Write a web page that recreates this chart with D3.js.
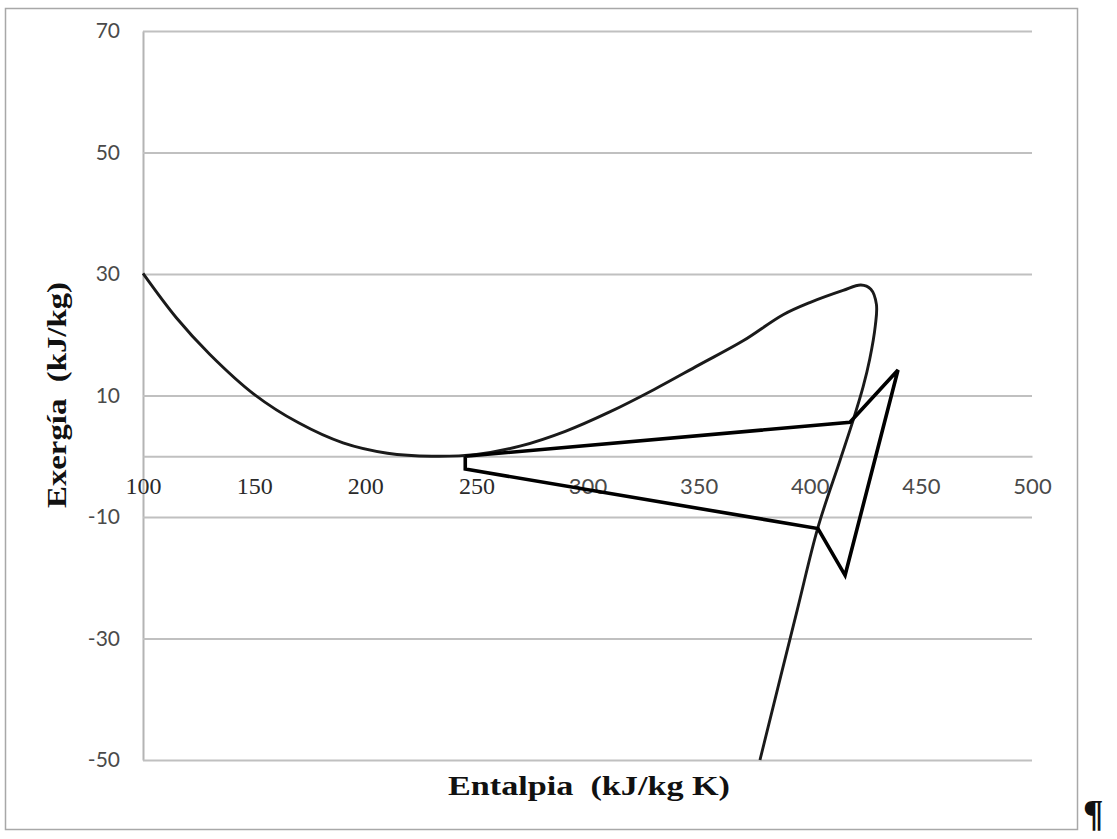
<!DOCTYPE html>
<html>
<head>
<meta charset="utf-8">
<script src="https://cdn.jsdelivr.net/npm/d3@7"></script>
<style>
  body { margin: 0; background: #fff; }
  svg { display: block; }
</style>
</head>
<body>
<svg id="svg" width="1117" height="839"></svg>
<script>
// curve (thin, smoothed)
var enthalpyA = [100, 115, 130, 150, 170, 190, 210, 230, 250, 270, 290, 310, 330, 350, 370, 388, 400, 415, 423, 427.5, 430, 429.5, 427, 424, 419.5, 413.6, 403.7, 394.3, 377.6];
var exergyA   = [30.1, 22.8, 16.8, 10.2, 5.5, 2.2, 0.5, 0, 0.3, 1.7, 4.1, 7.3, 11.0, 15.0, 19.0, 23.3, 25.3, 27.3, 28.2, 27.5, 25, 21.5, 16, 11.4, 5.9, -0.7, -11.7, -25.4, -50];
// closed cycle (thick, straight)
var enthalpyB = [245, 418.1, 439.7, 415.9, 403.7, 245, 245];
var exergyB   = [0, 5.6, 14.2, -19.6, -11.9, -2.1, 0];

var xTicks = [100, 150, 200, 250, 300, 350, 400, 450, 500];
var yTicks = [-50, -30, -10, 10, 30, 50, 70];
var serifTicks = [100, 150, 200, 250];

var svg = d3.select('#svg');

// outer frame
svg.append('rect')
  .attr('x', 5.5).attr('y', 8.5)
  .attr('width', 1072).attr('height', 821)
  .attr('fill', 'none')
  .attr('stroke', '#a8a8a8')
  .attr('stroke-width', 1.5);

var x = d3.scaleLinear().domain([100, 500]).range([143, 1032]);
var y = d3.scaleLinear().domain([-50, 70]).range([760, 31]);

// horizontal gridlines + y labels
var yAxis = svg.append('g')
  .attr('transform', 'translate(' + x(100) + ',0)')
  .call(d3.axisLeft(y).tickValues(yTicks)
    .tickFormat(function(d) { return String(d); })
    .tickSize(-(x(500) - x(100))).tickSizeOuter(0).tickPadding(23));
yAxis.selectAll('.tick line').attr('stroke', '#c0c0c0').attr('stroke-width', 2);
yAxis.select('.domain').attr('stroke', '#b4b4b4').attr('stroke-width', 2);
yAxis.selectAll('.tick text')
  .attr('font-family', 'Lato, "Open Sans", sans-serif')
  .attr('font-size', 21)
  .attr('fill', '#4a4a4a');

// zero line acting as the x axis, labels under it
var xAxis = svg.append('g')
  .attr('transform', 'translate(0,' + y(0) + ')')
  .call(d3.axisBottom(x).tickValues(xTicks)
    .tickFormat(function(d) { return String(d); })
    .tickSize(0).tickSizeOuter(0));
xAxis.select('.domain').attr('stroke', '#c0c0c0').attr('stroke-width', 2);
xAxis.selectAll('.tick text')
  .attr('y', 38)
  .attr('dy', 0)
  .attr('font-family', function(d) {
    return serifTicks.indexOf(d) >= 0 ? '"Liberation Serif", serif' : 'Lato, "Open Sans", sans-serif';
  })
  .attr('font-size', function(d) { return serifTicks.indexOf(d) >= 0 ? 24 : 22; })
  .attr('fill', function(d) { return serifTicks.indexOf(d) >= 0 ? '#2a2a2a' : '#4a4a4a'; });

// series
var lineA = d3.line()
  .x(function(d) { return x(d[0]); })
  .y(function(d) { return y(d[1]); })
  .curve(d3.curveCatmullRom.alpha(0.5));
var lineB = d3.line()
  .x(function(d) { return x(d[0]); })
  .y(function(d) { return y(d[1]); });

svg.append('path')
  .datum(d3.zip(enthalpyA, exergyA))
  .attr('d', lineA)
  .attr('fill', 'none')
  .attr('stroke', '#1a1a1a')
  .attr('stroke-width', 2.9)
  .attr('stroke-linejoin', 'round');

svg.append('path')
  .datum(d3.zip(enthalpyB, exergyB))
  .attr('d', lineB)
  .attr('fill', 'none')
  .attr('stroke', '#000')
  .attr('stroke-width', 3.6)
  .attr('stroke-linejoin', 'miter');

// axis titles
svg.append('text')
  .attr('transform', 'translate(66,395) rotate(-90)')
  .attr('text-anchor', 'middle')
  .attr('font-family', '"Liberation Serif", "Times New Roman", serif')
  .attr('font-weight', 'bold')
  .attr('font-size', 28)
  .attr('fill', '#111')
  .attr('textLength', 226)
  .attr('lengthAdjust', 'spacingAndGlyphs')
  .attr('xml:space', 'preserve')
  .text('Exergía  (kJ/kg)');

svg.append('text')
  .attr('x', 589).attr('y', 795)
  .attr('text-anchor', 'middle')
  .attr('font-family', '"Liberation Serif", "Times New Roman", serif')
  .attr('font-weight', 'bold')
  .attr('font-size', 28)
  .attr('fill', '#111')
  .attr('textLength', 282)
  .attr('lengthAdjust', 'spacingAndGlyphs')
  .attr('xml:space', 'preserve')
  .text('Entalpia  (kJ/kg K)');

// paragraph mark outside the frame
svg.append('text')
  .attr('x', 1083).attr('y', 826)
  .attr('font-family', '"Liberation Serif", serif')
  .attr('font-weight', 'bold')
  .attr('font-size', 38)
  .attr('fill', '#111')
  .text('¶');
</script>
</body>
</html>
